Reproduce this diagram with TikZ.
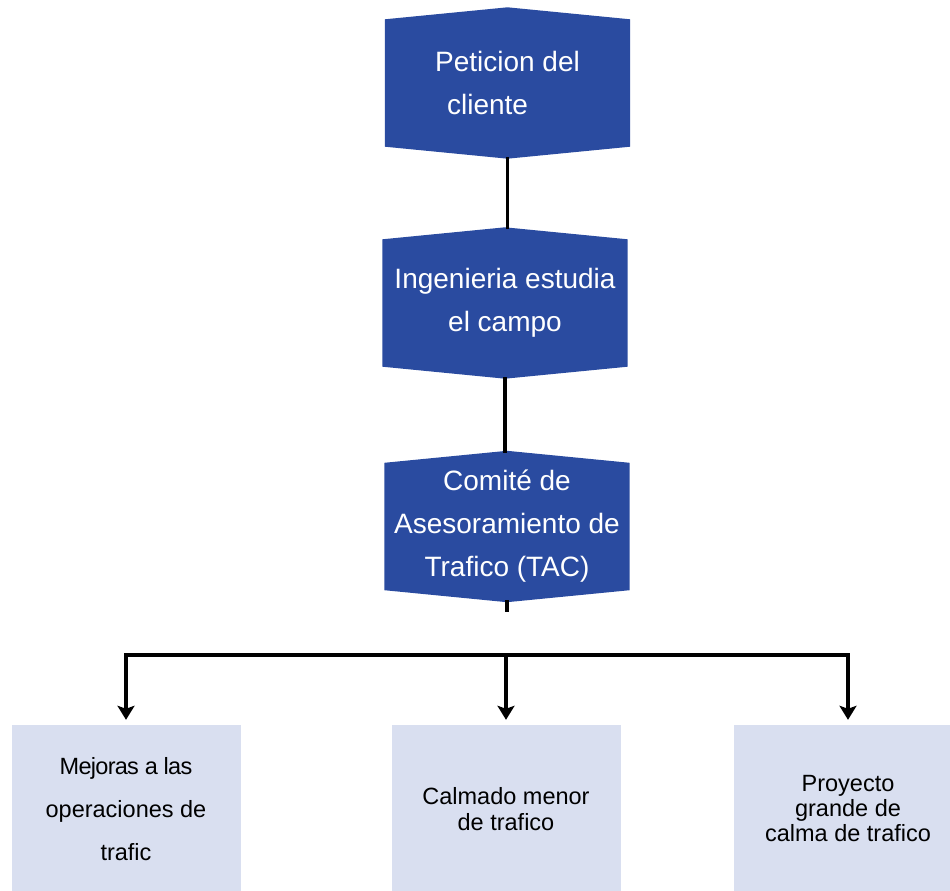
\documentclass[tikz,border=0pt]{standalone}
\usepackage{fontspec}
\setmainfont{Liberation Sans}
\usetikzlibrary{arrows.meta,calc,backgrounds}

\definecolor{stepblue}{RGB}{42,75,160}
\definecolor{optfill}{RGB}{217,223,240}

\begin{document}
\begin{tikzpicture}[x=1pt,y=-1pt,
    stepbox/.style={minimum width=245pt,minimum height=127pt,inner sep=0pt,
        text=white,font=\fontsize{28}{43}\selectfont},
    optbox/.style={fill=optfill,minimum width=229pt,minimum height=168pt,
        inner sep=0pt,align=center},
    link/.style={line width=3.5pt,line cap=rect},
    drop/.style={line width=3.5pt,-{Stealth[length=14pt,width=17pt,inset=3pt]},
        shorten >=5pt}]
    \useasboundingbox (0,0) rectangle (950,891);

    % Blue steps
    \node[stepbox,align=left] (pet) at (507.5,83) {Peticion del\\\hspace*{12pt}cliente};
    \node[stepbox,align=center] (ing) at (505,303) {Ingenieria estudia\\el campo};
    \node[stepbox,align=center] (tac) at (507,526.5) {Comit\'e de\\Asesoramiento de\\Trafico (TAC)};

    % Step outlines (pointed top and bottom)
    \begin{scope}[on background layer]
    \foreach \n in {pet,ing,tac} {
        \coordinate (\n-top) at ($(\n.north)+(0,-12)$);
        \coordinate (\n-bot) at ($(\n.south)+(0,12)$);
        \fill[stepblue] (\n.north west) -- (\n-top) -- (\n.north east)
            -- (\n.south east) -- (\n-bot) -- (\n.south west) -- cycle;
    }
    \end{scope}

    % Options
    \node[optbox,font=\fontsize{23.5}{43}\selectfont] (mej) at (126,809)
        {\addfontfeatures{LetterSpace=-3}Mejoras a las\\operaciones de\\trafic};
    \node[optbox,font=\fontsize{23.5}{26.5}\selectfont] (cal) at (506,809)
        {Calmado menor\\de trafico};
    \node[optbox,font=\fontsize{23.5}{25}\selectfont] (pro) at (848,809)
        {Proyecto\\grande de\\calma de trafico};

    % Links between steps
    \draw[link] (pet-bot) -- (pet-bot |- ing-top);
    \draw[link] (ing-bot) -- (ing-bot |- tac-top);
    \coordinate (tac-stub) at ($(tac-bot)+(0,8)$);
    \draw[link] (tac-bot) -- (tac-stub);

    % Branches
    \coordinate (bus) at (506,655);
    \draw[link] (bus -| mej) -- (bus -| pro);
    \foreach \n in {mej,cal,pro}
        \draw[drop] (bus -| \n) -- (\n.north);

\end{tikzpicture}
\end{document}
